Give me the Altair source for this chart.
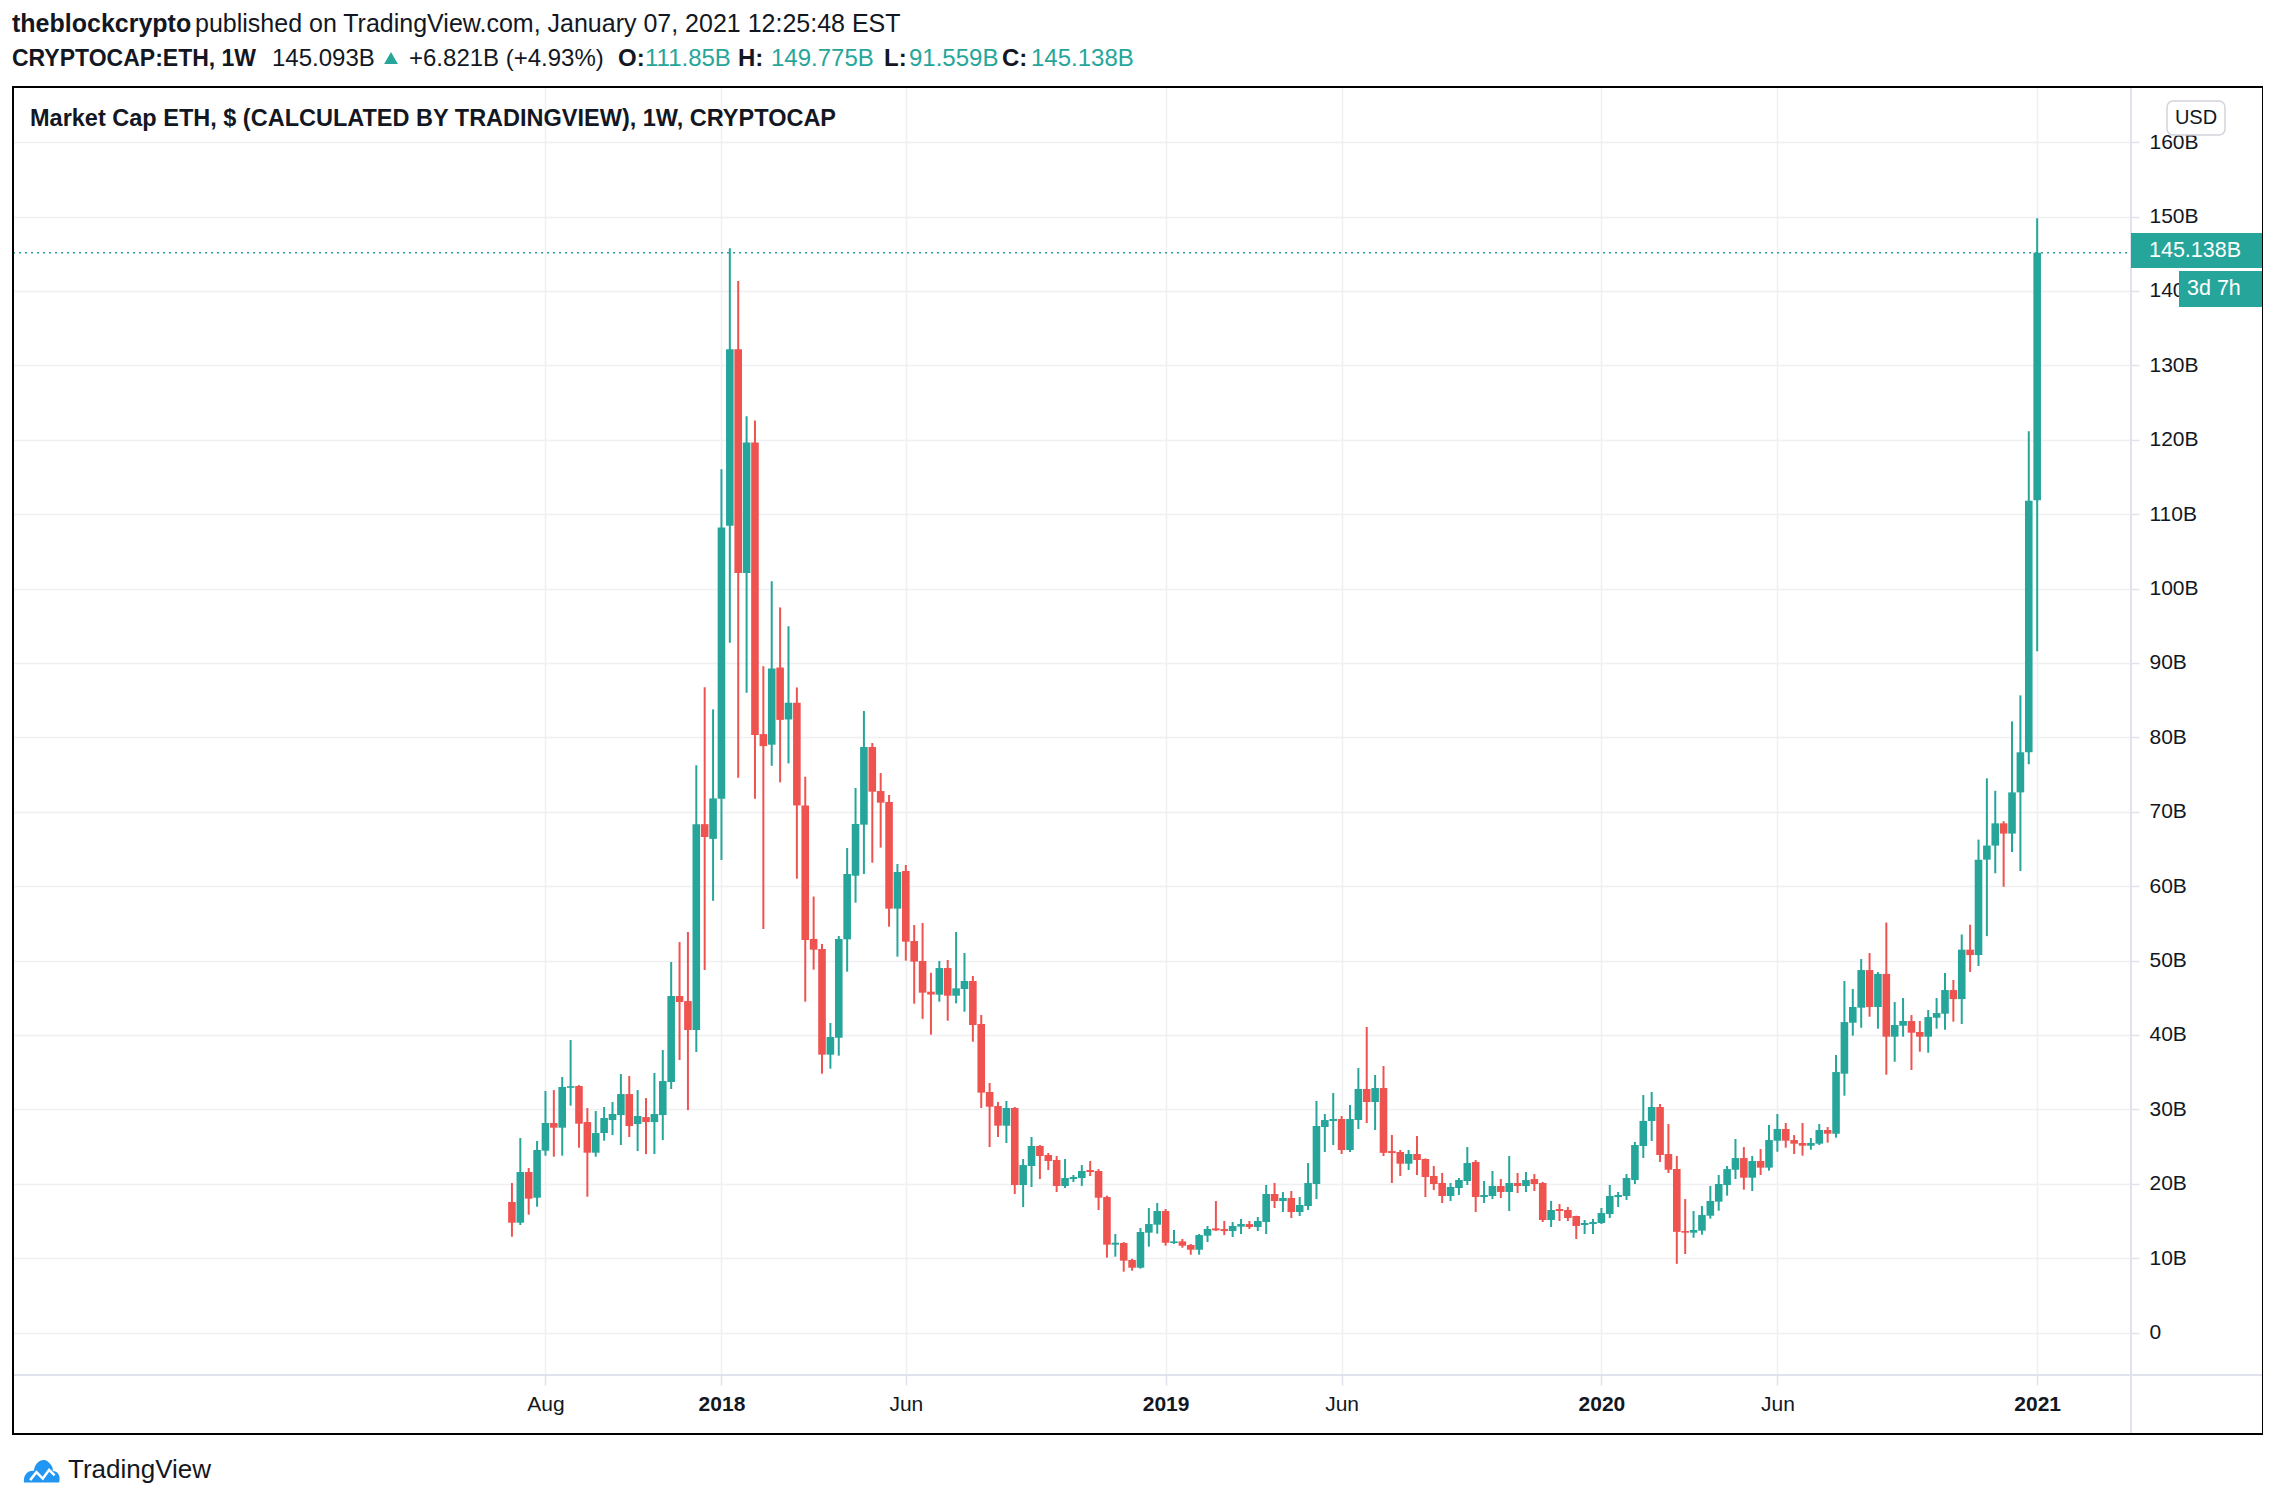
import altair as alt
import pandas as pd

# ---------------- data (weekly candles, values in billions USD) ----------------
opens = [17.54,14.76,21.57,18.12,24.44,28.16,27.53,32.91,33.13,28.29,
24.17,26.81,28.56,29.23,32.05,28.02,28.96,28.29,29.23,33.67,
45.23,44.55,40.66,68.33,66.35,71.73,108.45,132.16,102.09,119.62,
80.43,79.01,89.38,82.4,84.65,70.85,52.9,51.55,37.35,39.63,
52.85,61.4,68.26,78.7,72.78,71.31,56.97,62.03,52.62,49.94,
45.81,45.41,48.99,45.27,46.17,47.25,41.47,32.33,30.44,27.8,
30.18,19.83,22.38,25.07,23.86,23.19,19.69,20.63,20.77,21.84,
21.71,18.21,11.81,12.03,9.75,8.71,13.42,14.49,16.33,12.03,
12.25,11.76,11.13,13.01,14.0,13.91,13.64,14.23,14.58,14.18,
14.85,18.62,17.68,18.08,16.2,17.0,19.96,27.62,28.43,28.7,
24.53,28.56,32.73,30.98,32.86,24.38,24.26,22.69,23.99,23.32,
21.04,20.1,18.35,19.42,20.36,22.92,18.21,18.35,19.69,18.89,
20.1,19.69,20.63,20.1,15.12,16.6,16.47,15.66,14.45,14.59,
14.72,15.93,18.21,18.35,20.5,25.07,28.43,30.31,23.99,21.98,
13.64,13.42,13.69,15.7,17.59,19.82,21.88,23.45,20.81,23.05,
22.16,25.78,27.35,25.87,25.47,25.11,25.38,27.22,26.72,34.79,
41.64,43.66,48.72,43.75,48.2,39.76,41.24,41.87,40.39,39.76,
42.31,42.85,46.03,44.82,51.46,50.73,63.56,65.45,68.44,67.06,
72.6,77.99,111.85]

highs = [20.09,26.14,22.11,25.74,32.46,32.59,34.34,39.31,33.26,30.17,
29.77,30.31,30.98,34.74,34.47,32.59,31.52,34.88,37.97,49.8,
52.48,53.83,76.23,86.72,83.76,116.04,145.74,141.35,123.14,122.59,
89.56,100.98,97.46,94.93,86.7,74.7,58.6,52.22,41.6,53.3,
65.12,73.19,83.54,79.24,75.2,72.25,62.97,62.84,54.77,55.04,
48.35,49.94,50.07,53.83,51.01,47.92,42.68,33.54,30.98,31.12,
30.31,23.32,26.28,25.2,24.13,23.72,23.32,21.17,22.51,23.05,
21.97,18.4,13.24,12.16,9.92,14.05,16.73,17.41,16.6,13.78,
12.57,11.9,13.24,14.32,17.68,14.99,14.85,15.26,14.99,15.53,
19.83,20.1,18.88,19.02,18.21,22.78,31.12,29.37,32.19,29.1,
30.58,35.55,41.06,34.61,35.82,26.55,24.53,24.53,26.41,23.4,
22.38,21.44,20.1,20.77,24.93,23.19,20.36,21.71,20.63,23.73,
21.44,21.57,21.3,20.23,17.68,17.27,16.87,15.7,15.12,15.26,
16.74,19.83,18.89,21.3,25.61,31.92,32.33,30.72,28.02,23.73,
17.94,16.33,17.0,19.69,21.17,22.38,26.01,24.93,23.72,24.66,
27.89,29.37,28.16,26.54,28.16,26.14,28.02,27.62,37.3,47.24,
46.17,50.2,51.0,48.45,55.1,44.42,44.96,42.67,41.87,43.35,
44.96,48.32,47.38,53.5,54.81,66.25,74.49,72.81,68.73,82.14,
85.64,121.14,149.775]

lows = [12.88,14.45,15.84,16.91,23.77,23.63,23.77,30.49,24.84,18.26,
23.63,25.78,26.54,25.2,26.28,24.39,23.99,23.99,25.87,32.73,
36.62,29.9,37.7,48.72,58.02,63.51,92.71,74.56,85.98,71.73,
54.25,76.17,73.95,76.5,61.0,44.47,48.77,34.79,35.46,37.21,
48.5,57.78,61.63,63.15,65.17,54.55,50.52,49.98,44.2,42.16,
40.03,44.47,41.91,44.24,43.12,39.09,30.18,24.93,26.28,25.47,
18.62,16.87,19.56,20.63,21.84,18.88,19.42,20.23,19.69,21.03,
16.47,10.06,10.19,8.18,8.31,8.58,11.54,13.28,11.67,11.9,
11.4,10.46,10.46,12.16,13.64,13.1,12.84,13.24,13.91,13.64,
13.24,16.73,16.2,15.39,15.66,16.47,17.94,24.26,25.2,24.0,
24.26,27.35,28.16,27.22,23.72,20.1,21.04,21.84,21.17,18.21,
19.15,17.41,17.68,18.48,19.83,16.2,17.41,17.95,18.08,16.33,
18.75,18.89,19.02,14.85,14.18,14.99,14.99,12.57,13.24,13.24,
14.59,15.39,16.87,17.81,19.96,23.46,25.74,22.92,21.44,9.23,
10.55,12.74,13.15,15.3,16.37,18.39,20.63,19.2,19.02,21.17,
21.75,24.3,24.84,24.0,23.77,24.57,25.2,25.52,26.19,31.83,
39.9,40.97,42.45,40.84,34.65,36.4,39.76,35.28,37.74,37.61,
40.84,40.7,41.78,41.47,48.47,49.27,53.28,61.73,59.91,64.58,
62.03,76.39,91.559]

closes = [14.76,21.57,17.99,24.53,28.16,27.53,33.0,33.09,28.07,24.17,
26.81,28.83,29.37,32.05,27.75,29.10,28.29,29.37,33.8,45.23,
44.42,40.66,68.33,66.6,71.79,108.21,132.16,102.09,119.62,80.3,
78.82,89.25,82.34,84.65,70.85,52.75,51.46,37.35,39.72,52.89,
61.63,68.35,78.7,72.69,71.22,56.97,61.9,52.53,49.85,45.68,
45.43,48.99,45.27,46.26,47.25,41.33,32.24,30.35,27.8,30.18,
19.83,22.51,25.07,23.72,23.05,19.69,20.77,20.9,21.71,21.57,
18.12,11.81,12.07,9.66,8.71,13.51,14.58,16.33,12.07,12.25,
11.67,11.13,13.1,13.91,13.73,13.64,14.32,14.58,14.18,14.99,
18.62,17.68,18.08,16.2,17.14,20.09,27.76,28.56,28.7,24.53,
28.7,32.73,30.98,32.86,24.15,24.13,22.69,23.99,23.19,20.9,
19.96,18.35,19.56,20.5,22.78,18.21,18.48,19.69,18.89,20.1,
19.69,20.5,19.96,15.12,16.47,16.33,15.39,14.32,14.72,14.85,
16.06,18.35,18.48,20.77,25.2,28.43,30.31,23.86,21.88,13.53,
13.42,13.78,15.79,17.68,19.96,21.97,23.45,20.81,23.05,22.16,
25.87,27.35,25.78,25.38,25.11,25.47,27.22,26.72,35.01,41.73,
43.75,48.72,43.75,48.2,39.76,41.33,41.87,40.3,39.76,42.4,
42.94,46.03,44.82,51.46,50.73,63.56,65.45,68.44,67.06,72.6,
77.99,111.81,145.138]

tick_idx = [4, 25, 47, 78, 99, 130, 151, 182]
tick_labels = ["Aug", "2018", "Jun", "2019", "Jun", "2020", "Jun", "2021"]
y_ticks = list(range(0, 161, 10))
last_close = 145.138

header1_bold = "theblockcrypto"
header1_rest = "published on TradingView.com, January 07, 2021 12:25:48 EST"
symbol_txt = "CRYPTOCAP:ETH, 1W"
last_txt = "145.093B"
change_txt = "+6.821B (+4.93%)"
ohlc_keys = ["O:", "H:", "L:", "C:"]
ohlc_vals = ["111.85B", "149.775B", "91.559B", "145.138B"]
title_txt = "Market Cap ETH, $ (CALCULATED BY TRADINGVIEW), 1W, CRYPTOCAP"

# ---------------- frame ----------------
UP = "#26a69a"
DOWN = "#ef5350"
INK = "#131722"
GRID = "#f0f0f3"
SEP = "#e0e3eb"
FONT = "Liberation Sans"

W, H = 2118, 1288
PAD = {"left": 5, "top": 79, "right": 132, "bottom": 110}

df = pd.DataFrame({"i": list(range(len(opens))), "o": opens, "h": highs, "l": lows, "c": closes})
df["dir"] = ["up" if c >= o else "down" for o, c in zip(opens, closes)]
lo = df[["o", "c"]].min(axis=1)
hi = df[["o", "c"]].max(axis=1)
mid = (lo + hi) / 2
small = (hi - lo) < 0.22
df["blo"] = lo.where(~small, mid - 0.11)
df["bhi"] = hi.where(~small, mid + 0.11)

lab_expr = " : ".join(f"datum.value == {v} ? '{t}'" for v, t in zip(tick_idx, tick_labels)) + " : ''"
year_test = " || ".join(f"datum.value == {v}" for v, t in zip(tick_idx, tick_labels) if len(t) == 4)

xscale = alt.Scale(domain=[-58.94, 192.6], nice=False, zero=False)
yscale = alt.Scale(domain=[-5.71, 167.41], nice=False, zero=False)

xaxis = alt.Axis(values=tick_idx, labelExpr=lab_expr, title=None, grid=True, gridColor=GRID,
                 gridWidth=1.5, domain=False, tickColor=SEP, tickSize=10, tickWidth=1.5,
                 labelPadding=8, labelFontSize=21, labelFont=FONT, labelColor=INK,
                 labelFontWeight={"condition": {"test": year_test, "value": "bold"}, "value": "normal"})
yaxis = alt.Axis(orient="right", values=y_ticks,
                 labelExpr="datum.value == 0 ? '0' : datum.value + 'B'", title=None,
                 grid=True, gridColor=GRID, gridWidth=1.5, domain=False, tickColor=SEP,
                 tickSize=8, tickWidth=1.5, labelPadding=10, labelFontSize=21,
                 labelFont=FONT, labelColor=INK, labelBaseline="middle")

X = alt.X("i:Q", scale=xscale, axis=xaxis)
color = alt.Color("dir:N", scale=alt.Scale(domain=["up", "down"], range=[UP, DOWN]), legend=None)

base = alt.Chart(df)
wicks = base.mark_rule(strokeWidth=2).encode(
    x=X, y=alt.Y("l:Q", scale=yscale, axis=yaxis), y2="h:Q", color=color)
bodies = base.mark_bar(size=7.6).encode(
    x=X, y=alt.Y("blo:Q", scale=yscale, axis=yaxis), y2="bhi:Q", color=color)

one = pd.DataFrame({"k": [0]})


def txt(s, x, y, size=25, weight="normal", col=INK, align="left"):
    return alt.Chart(one).mark_text(text=s, align=align, baseline="middle", fontSize=size,
                                    fontWeight=weight, color=col, font=FONT).encode(
        x=alt.value(x), y=alt.value(y))


def box(x1, x2, y1, y2, **kw):
    return alt.Chart(one).mark_rect(**kw).encode(
        x=alt.value(x1), x2=alt.value(x2), y=alt.value(y1), y2=alt.value(y2))


def hline(y, x1, x2, col, w):
    return alt.Chart(one).mark_rule(color=col, strokeWidth=w).encode(
        x=alt.value(x1), x2=alt.value(x2), y=alt.value(y))


def vline(x, y1, y2, col, w):
    return alt.Chart(one).mark_rule(color=col, strokeWidth=w).encode(
        x=alt.value(x), y=alt.value(y1), y2=alt.value(y2))


price_line = alt.Chart(one).mark_rule(color=UP, strokeWidth=1.5, strokeDash=[2, 4]).encode(
    y=alt.Y(datum=last_close, type="quantitative", scale=yscale, axis=yaxis),
    x=alt.value(0), x2=alt.value(W))

L1, L2 = -63, -28
S2 = 24
layers = [
    hline(H, 0, 2250, SEP, 2),
    vline(W, 0, 1347, SEP, 2),
    price_line,
    wicks,
    bodies,
    # header lines
    txt(header1_bold, -1, L1, weight="bold"),
    txt(header1_rest, 182, L1),
    txt(symbol_txt, -1, L2, size=23, weight="bold"),
    txt(last_txt, 259, L2, size=S2),
    alt.Chart(one).mark_point(shape="triangle-up", filled=True, color=UP, size=190, opacity=1).encode(
        x=alt.value(378), y=alt.value(L2 - 1)),
    txt(change_txt, 396, L2, size=S2),
]
key_x = [605, 725, 871, 989]
val_x = [632, 758, 896, 1018]
for k, v, kx, vx in zip(ohlc_keys, ohlc_vals, key_x, val_x):
    layers.append(txt(k, kx, L2, size=S2, weight="bold"))
    layers.append(txt(v, vx, L2, size=S2, col=UP))

layers += [
    txt(title_txt, 17, 32, size=23.5, weight="bold"),
    # USD badge
    box(2154, 2212, 14, 48, fill="white", stroke="#d1d4dc", strokeWidth=1.5, cornerRadius=6),
    txt("USD", 2183, 31, size=20, align="center"),
    # last price badges
    box(W, 2250, 146, 181, fill=UP),
    txt("145.138B", 2136, 164, size=21.5, col="white"),
    box(2166, 2250, 184, 220, fill=UP),
    txt("3d 7h", 2174, 202, size=21.5, col="white"),
    # outer frame
    box(0, 2250, 0, 1347, fillOpacity=0, stroke="black", strokeWidth=2),
    # TradingView footer
    alt.Chart(one).mark_point(
        shape="M-1,0.7 C-1.05,0.25 -0.75,0 -0.45,0.05 C-0.4,-0.45 0.05,-0.7 0.35,-0.45 C0.55,-0.3 0.62,-0.1 0.6,0.05 C0.9,0.05 1.05,0.35 0.95,0.7 Z",
        filled=True, color="#2196f3", size=1300, opacity=1).encode(x=alt.value(29), y=alt.value(1383)),
    alt.Chart(one).mark_point(
        shape="M-0.75,0.45 L-0.35,-0.05 L0.05,0.35 L0.45,-0.2 L0.8,0.15",
        filled=False, color="white", strokeWidth=2.5, size=1000, opacity=1).encode(x=alt.value(29), y=alt.value(1386)),
    txt("TradingView", 55, 1383, size=26),
]

chart = alt.layer(*layers).properties(
    width=W, height=H, padding=PAD, autosize="none", background="white"
).configure_view(stroke=None)

chart.save("out.html", embed_options={"renderer": "svg", "actions": False})
